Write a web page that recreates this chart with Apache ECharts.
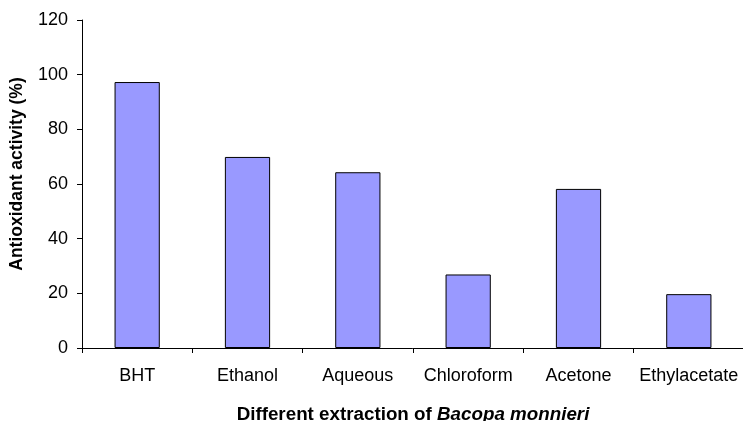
<!DOCTYPE html>
<html>
<head>
<meta charset="utf-8">
<script src="https://cdn.jsdelivr.net/npm/echarts@6/dist/echarts.min.js"></script>
<style>
html,body{margin:0;padding:0;background:#fff;}
#chart{width:743px;height:421px;}
</style>
</head>
<body>
<div id="chart"></div>
<script>
const categories = ['BHT', 'Ethanol', 'Aqueous', 'Chloroform', 'Acetone', 'Ethylacetate'];
const activity = [97.3, 69.9, 64.3, 26.9, 58.2, 19.7];
const yTicks = [0, 20, 40, 60, 80, 100, 120];

const chart = echarts.init(document.getElementById('chart'), null, {renderer: 'canvas'});
const FONT = '"Liberation Sans", Arial, sans-serif';
chart.setOption({
  animation: false,
  backgroundColor: '#ffffff',
  grid: {left: 82, top: 20, width: 662, height: 328, containLabel: false, outerBoundsMode: 'none'},
  xAxis: {
    type: 'category',
    data: categories,
    boundaryGap: true,
    name: 'Different extraction of {i|Bacopa monnieri}',
    nameLocation: 'middle',
    nameGap: 57,
    nameTextStyle: {
      fontFamily: FONT, fontSize: 18.8, fontWeight: 'bold', color: '#000',
      rich: {i: {fontFamily: FONT, fontSize: 18.8, fontWeight: 'bold', fontStyle: 'italic', color: '#000'}}
    },
    axisLine: {show: true, lineStyle: {color: '#000', width: 1}},
    axisTick: {show: true, length: 5, inside: false, lineStyle: {color: '#000', width: 1}},
    axisLabel: {fontFamily: FONT, fontSize: 18, color: '#000', margin: 19, interval: 0},
    splitLine: {show: false}
  },
  yAxis: {
    type: 'value',
    min: yTicks[0],
    max: yTicks[yTicks.length - 1],
    interval: yTicks[1] - yTicks[0],
    name: 'Antioxidant activity (%)',
    nameLocation: 'middle',
    nameGap: 56,
    nameTextStyle: {fontFamily: FONT, fontSize: 17.5, fontWeight: 'bold', color: '#000', padding: [0, 0, 0, 20]},
    axisLine: {show: true, lineStyle: {color: '#000', width: 1}},
    axisTick: {show: true, length: 5, inside: false, lineStyle: {color: '#000', width: 1}},
    axisLabel: {fontFamily: FONT, fontSize: 18, color: '#000', margin: 14},
    splitLine: {show: false}
  },
  series: [{
    type: 'bar',
    data: activity,
    barWidth: '41%',
    itemStyle: {color: '#9999ff', borderColor: '#000', borderWidth: 1}
  }]
});
</script>
</body>
</html>
